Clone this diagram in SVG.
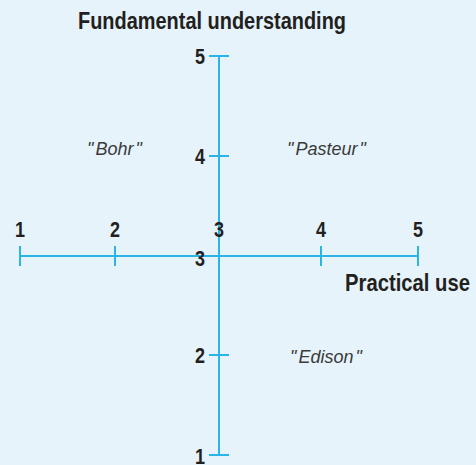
<svg xmlns="http://www.w3.org/2000/svg" width="476" height="465" viewBox="0 0 476 465">
  <style>
    .axis { stroke: #29b5e5; stroke-width: 2; fill: none; }
    .num { font-family: "Liberation Sans Narrow", "Liberation Sans", sans-serif; font-weight: bold; font-size: 22px; fill: #231f20; }
    .title { font-family: "Liberation Sans Narrow", "Liberation Sans", sans-serif; font-weight: bold; font-size: 24px; fill: #231f20; }
    .quad { font-family: "Liberation Sans", "Helvetica", sans-serif; font-style: italic; font-size: 18px; fill: #3a3a3a; }
  </style>
  <rect width="476" height="465" fill="#e6f3fb"/>

  <!-- axes with tick marks -->
  <g id="connectors">
    <g id="axis-practical">
      <line class="axis" x1="20" y1="256" x2="418" y2="256"/>
      <line class="axis" x1="20" y1="246" x2="20" y2="266"/>
      <line class="axis" x1="115" y1="246" x2="115" y2="266"/>
      <line class="axis" x1="321" y1="246" x2="321" y2="266"/>
      <line class="axis" x1="418" y1="246" x2="418" y2="266"/>
    </g>
    <g id="axis-fundamental">
      <line class="axis" x1="219" y1="56" x2="219" y2="455"/>
      <line class="axis" x1="209" y1="56" x2="229" y2="56"/>
      <line class="axis" x1="209" y1="156" x2="229" y2="156"/>
      <line class="axis" x1="209" y1="355" x2="229" y2="355"/>
      <line class="axis" x1="209" y1="455" x2="229" y2="455"/>
    </g>
  </g>

  <!-- axis titles -->
  <g id="title-fundamental">
    <text class="title" x="78" y="29" textLength="268" lengthAdjust="spacingAndGlyphs">Fundamental understanding</text>
  </g>
  <g id="title-practical">
    <text class="title" x="345" y="291" textLength="125" lengthAdjust="spacingAndGlyphs">Practical use</text>
  </g>

  <!-- horizontal scale values -->
  <g id="scale-practical" text-anchor="middle">
    <text class="num" x="20" y="237" textLength="10" lengthAdjust="spacingAndGlyphs">1</text>
    <text class="num" x="115" y="237" textLength="10" lengthAdjust="spacingAndGlyphs">2</text>
    <text class="num" x="219" y="237" textLength="10" lengthAdjust="spacingAndGlyphs">3</text>
    <text class="num" x="321" y="237" textLength="10" lengthAdjust="spacingAndGlyphs">4</text>
    <text class="num" x="418" y="237" textLength="10" lengthAdjust="spacingAndGlyphs">5</text>
  </g>

  <!-- vertical scale values -->
  <g id="scale-fundamental" text-anchor="end">
    <text class="num" x="205" y="64" textLength="10" lengthAdjust="spacingAndGlyphs">5</text>
    <text class="num" x="205" y="164" textLength="10" lengthAdjust="spacingAndGlyphs">4</text>
    <text class="num" x="205" y="266" textLength="10" lengthAdjust="spacingAndGlyphs">3</text>
    <text class="num" x="205" y="363" textLength="10" lengthAdjust="spacingAndGlyphs">2</text>
    <text class="num" x="205" y="464" textLength="10" lengthAdjust="spacingAndGlyphs">1</text>
  </g>

  <!-- quadrant names -->
  <g id="bohr"><text class="quad" x="87" y="155">"<tspan dx="2">Bohr</tspan><tspan dx="2">"</tspan></text></g>
  <g id="pasteur"><text class="quad" x="287" y="155">"<tspan dx="2">Pasteur</tspan><tspan dx="2">"</tspan></text></g>
  <g id="edison"><text class="quad" x="290" y="363">"<tspan dx="2">Edison</tspan><tspan dx="2">"</tspan></text></g>
</svg>
